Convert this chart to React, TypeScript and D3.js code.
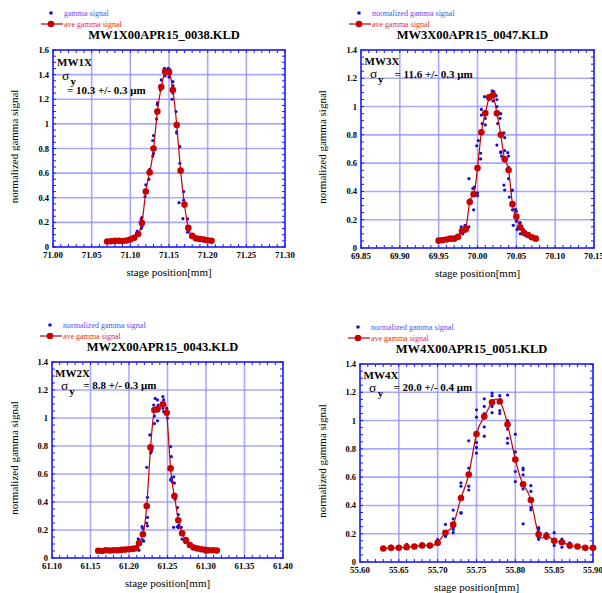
import React from 'react';
import * as d3 from 'd3';

// ---- MW1X ----
const p1Pos = [71.070, 71.075, 71.080, 71.085, 71.090, 71.095, 71.100, 71.105, 71.110, 71.115, 71.120, 71.125, 71.130, 71.135, 71.140, 71.145, 71.150, 71.155, 71.160, 71.165, 71.170, 71.175, 71.180, 71.185, 71.190, 71.195, 71.200, 71.205];
const p1Ave = [0.045, 0.047, 0.050, 0.050, 0.048, 0.053, 0.060, 0.075, 0.105, 0.195, 0.450, 0.605, 0.800, 1.100, 1.300, 1.425, 1.420, 1.275, 0.990, 0.620, 0.345, 0.155, 0.090, 0.070, 0.065, 0.060, 0.055, 0.050];
const p1Raw: [number, number][] = [
  [71.070, 0.040], [71.071, 0.050], [71.075, 0.043], [71.076, 0.052], [71.080, 0.048], [71.081, 0.055], [71.085, 0.045], [71.086, 0.055],
  [71.090, 0.044], [71.091, 0.052], [71.095, 0.048], [71.096, 0.058], [71.100, 0.055], [71.101, 0.066], [71.105, 0.068], [71.106, 0.085],
  [71.109, 0.130], [71.110, 0.092], [71.111, 0.112],
  [71.114, 0.150], [71.114, 0.227], [71.115, 0.240], [71.115, 0.165],
  [71.119, 0.410], [71.120, 0.465], [71.120, 0.505],
  [71.124, 0.550], [71.124, 0.620], [71.125, 0.630],
  [71.129, 0.740], [71.130, 0.760], [71.129, 0.865], [71.130, 0.905],
  [71.134, 1.040], [71.134, 1.085], [71.135, 1.155], [71.135, 1.170],
  [71.139, 1.275], [71.140, 1.357], [71.139, 1.280],
  [71.144, 1.450], [71.145, 1.390], [71.145, 1.440],
  [71.149, 1.450], [71.150, 1.380], [71.151, 1.440],
  [71.154, 1.200], [71.155, 1.343], [71.155, 1.250], [71.155, 1.310],
  [71.159, 1.100], [71.160, 0.925], [71.160, 0.935], [71.159, 1.000],
  [71.164, 0.815], [71.164, 0.680], [71.163, 0.360],
  [71.169, 0.450], [71.169, 0.380], [71.168, 0.230], [71.170, 0.330],
  [71.174, 0.228], [71.174, 0.120], [71.175, 0.140],
  [71.179, 0.100], [71.180, 0.090], [71.180, 0.078],
  [71.185, 0.075], [71.186, 0.065], [71.190, 0.068], [71.191, 0.060], [71.195, 0.058], [71.196, 0.062],
  [71.200, 0.052], [71.201, 0.058], [71.205, 0.048], [71.205, 0.055],
];
const p1XTicks = [71.0, 71.05, 71.1, 71.15, 71.2, 71.25, 71.3];
const p1YTicks = [0, 0.2, 0.4, 0.6, 0.8, 1, 1.2, 1.4, 1.6];

// ---- MW3X ----
const p2Pos = [69.950, 69.955, 69.960, 69.965, 69.970, 69.975, 69.980, 69.985, 69.990, 69.995, 70.000, 70.005, 70.010, 70.015, 70.020, 70.025, 70.030, 70.035, 70.040, 70.045, 70.050, 70.055, 70.060, 70.065, 70.070, 70.075];
const p2Ave = [0.052, 0.056, 0.060, 0.066, 0.066, 0.080, 0.120, 0.135, 0.325, 0.380, 0.565, 0.818, 0.952, 1.065, 1.082, 0.952, 0.800, 0.627, 0.552, 0.310, 0.222, 0.146, 0.108, 0.092, 0.076, 0.066];
const p2Raw: [number, number][] = [
  [69.950, 0.048], [69.951, 0.056], [69.955, 0.050], [69.956, 0.060], [69.960, 0.055], [69.961, 0.066],
  [69.965, 0.060], [69.966, 0.072], [69.970, 0.062], [69.971, 0.070], [69.975, 0.072], [69.976, 0.090],
  [69.979, 0.150], [69.980, 0.115], [69.981, 0.100],
  [69.984, 0.160], [69.985, 0.120], [69.986, 0.140],
  [69.989, 0.150], [69.989, 0.490], [69.990, 0.340],
  [69.994, 0.420], [69.995, 0.380], [69.995, 0.270], [69.996, 0.430],
  [69.999, 0.723], [70.000, 0.390], [70.000, 0.370], [70.001, 0.760],
  [70.004, 0.670], [70.004, 0.630], [70.005, 0.980], [70.005, 0.940], [70.006, 0.880],
  [70.009, 1.070], [70.010, 0.917], [70.010, 0.870],
  [70.014, 1.070], [70.015, 1.075], [70.015, 1.050],
  [70.019, 1.112], [70.020, 1.070], [70.020, 1.040], [70.021, 1.105],
  [70.024, 1.077], [70.025, 1.050], [70.025, 1.000], [70.025, 0.728], [70.026, 0.880],
  [70.029, 0.917], [70.030, 0.680], [70.030, 0.674], [70.031, 0.650], [70.030, 0.950],
  [70.034, 0.815], [70.035, 0.780], [70.035, 0.688], [70.034, 0.445], [70.035, 0.410],
  [70.039, 0.674], [70.040, 0.650], [70.040, 0.570], [70.040, 0.490], [70.041, 0.360],
  [70.044, 0.405], [70.045, 0.410], [70.045, 0.270], [70.046, 0.160],
  [70.049, 0.273], [70.050, 0.260], [70.050, 0.190], [70.051, 0.130],
  [70.054, 0.175], [70.055, 0.100], [70.055, 0.180], [70.056, 0.136],
  [70.059, 0.132], [70.060, 0.100], [70.061, 0.090],
  [70.064, 0.100], [70.065, 0.085], [70.066, 0.090],
  [70.069, 0.080], [70.070, 0.070], [70.074, 0.070], [70.075, 0.062],
];
const p2XTicks = [69.85, 69.9, 69.95, 70.0, 70.05, 70.1, 70.15];
const p2YTicks = [0, 0.2, 0.4, 0.6, 0.8, 1, 1.2, 1.4];

// ---- MW2X ----
const p3Pos = [61.160, 61.165, 61.170, 61.175, 61.180, 61.185, 61.190, 61.195, 61.200, 61.205, 61.209, 61.213, 61.218, 61.223, 61.228, 61.233, 61.237, 61.244, 61.249, 61.254, 61.259, 61.264, 61.269, 61.274, 61.279, 61.284, 61.289, 61.294, 61.299, 61.304, 61.309, 61.314];
const p3Ave = [0.052, 0.050, 0.055, 0.053, 0.055, 0.055, 0.058, 0.060, 0.062, 0.065, 0.070, 0.105, 0.170, 0.371, 0.790, 1.057, 1.064, 1.098, 1.038, 0.640, 0.443, 0.270, 0.176, 0.126, 0.093, 0.075, 0.068, 0.062, 0.058, 0.055, 0.055, 0.053];
const p3Raw: [number, number][] = [
  [61.160, 0.048], [61.161, 0.056], [61.165, 0.046], [61.166, 0.055], [61.170, 0.052], [61.171, 0.060], [61.175, 0.050], [61.176, 0.057],
  [61.180, 0.052], [61.181, 0.060], [61.185, 0.050], [61.186, 0.060], [61.190, 0.055], [61.191, 0.062], [61.195, 0.056], [61.196, 0.065],
  [61.200, 0.058], [61.201, 0.068], [61.205, 0.060], [61.206, 0.072],
  [61.209, 0.065], [61.210, 0.078],
  [61.212, 0.136], [61.213, 0.125], [61.213, 0.055],
  [61.217, 0.224], [61.218, 0.210], [61.218, 0.130], [61.219, 0.120],
  [61.223, 0.648], [61.224, 0.434], [61.224, 0.290], [61.223, 0.250], [61.224, 0.230],
  [61.227, 0.879], [61.228, 0.795], [61.229, 0.760], [61.228, 0.750], [61.229, 0.771],
  [61.232, 1.093], [61.233, 1.014], [61.234, 1.140], [61.233, 0.960],
  [61.237, 1.129], [61.238, 1.093], [61.238, 1.050], [61.237, 0.980],
  [61.244, 1.152], [61.245, 1.129], [61.245, 1.045], [61.244, 1.069],
  [61.249, 1.069], [61.250, 1.038], [61.250, 1.000], [61.249, 1.045],
  [61.254, 0.795], [61.255, 0.724], [61.255, 0.564], [61.256, 0.545], [61.255, 0.569], [61.254, 0.557],
  [61.258, 0.580], [61.259, 0.535], [61.259, 0.457], [61.260, 0.420], [61.258, 0.219],
  [61.263, 0.360], [61.264, 0.310], [61.263, 0.224], [61.264, 0.217], [61.265, 0.235],
  [61.268, 0.219], [61.269, 0.180], [61.269, 0.135], [61.270, 0.170],
  [61.273, 0.110], [61.274, 0.140], [61.275, 0.130],
  [61.279, 0.090], [61.279, 0.100], [61.280, 0.085],
  [61.284, 0.070], [61.285, 0.080], [61.289, 0.065], [61.290, 0.072], [61.294, 0.060], [61.295, 0.066],
  [61.299, 0.058], [61.300, 0.040], [61.304, 0.052], [61.305, 0.058], [61.309, 0.050], [61.310, 0.060], [61.314, 0.050], [61.315, 0.056],
];
const p3XTicks = [61.1, 61.15, 61.2, 61.25, 61.3, 61.35, 61.4];
const p3YTicks = [0, 0.2, 0.4, 0.6, 0.8, 1, 1.2, 1.4];

// ---- MW4X ----
const p4Pos = [55.63, 55.64, 55.65, 55.66, 55.67, 55.68, 55.69, 55.70, 55.71, 55.72, 55.73, 55.74, 55.75, 55.76, 55.77, 55.78, 55.79, 55.80, 55.81, 55.82, 55.83, 55.84, 55.85, 55.86, 55.87, 55.88, 55.89, 55.90];
const p4Ave = [0.095, 0.100, 0.100, 0.105, 0.110, 0.117, 0.117, 0.136, 0.207, 0.264, 0.452, 0.619, 0.905, 1.028, 1.130, 1.135, 0.973, 0.725, 0.550, 0.438, 0.195, 0.183, 0.150, 0.140, 0.117, 0.110, 0.100, 0.100];
const p4Raw: [number, number][] = [
  [55.63, 0.090], [55.63, 0.100], [55.64, 0.095], [55.64, 0.112], [55.65, 0.095], [55.65, 0.107], [55.66, 0.124], [55.66, 0.107],
  [55.67, 0.117], [55.67, 0.107], [55.68, 0.128], [55.68, 0.110], [55.69, 0.117], [55.69, 0.107],
  [55.70, 0.159], [55.70, 0.136], [55.70, 0.124],
  [55.71, 0.266], [55.71, 0.188], [55.71, 0.180],
  [55.72, 0.367], [55.72, 0.305], [55.72, 0.245], [55.72, 0.230], [55.72, 0.207],
  [55.73, 0.560], [55.73, 0.536], [55.73, 0.350], [55.73, 0.345],
  [55.74, 0.857], [55.74, 0.664], [55.74, 0.536], [55.74, 0.509],
  [55.75, 1.076], [55.75, 1.024], [55.75, 0.845], [55.75, 0.810], [55.75, 0.770],
  [55.76, 1.154], [55.76, 1.100], [55.76, 1.050], [55.76, 0.955], [55.76, 0.890],
  [55.77, 1.195], [55.77, 1.176], [55.77, 1.140], [55.77, 1.100], [55.77, 1.056],
  [55.78, 1.176], [55.78, 1.150], [55.78, 1.070], [55.78, 1.050],
  [55.79, 1.180], [55.79, 1.000], [55.79, 0.940], [55.79, 0.875], [55.79, 0.840],
  [55.80, 0.904], [55.80, 0.778], [55.80, 0.640], [55.80, 0.569],
  [55.81, 0.664], [55.81, 0.652], [55.81, 0.617], [55.81, 0.517], [55.81, 0.270],
  [55.82, 0.540], [55.82, 0.500], [55.82, 0.430], [55.82, 0.385], [55.82, 0.369],
  [55.83, 0.243], [55.83, 0.231], [55.83, 0.170], [55.83, 0.160],
  [55.84, 0.202], [55.84, 0.183], [55.84, 0.167],
  [55.85, 0.207], [55.85, 0.140], [55.85, 0.117],
  [55.86, 0.162], [55.86, 0.145], [55.86, 0.105],
  [55.87, 0.136], [55.87, 0.120], [55.87, 0.105],
  [55.88, 0.115], [55.88, 0.105], [55.89, 0.105], [55.89, 0.096], [55.90, 0.105], [55.90, 0.096],
];
const p4XTicks = [55.6, 55.65, 55.7, 55.75, 55.8, 55.85, 55.9];
const p4YTicks = [0, 0.2, 0.4, 0.6, 0.8, 1, 1.2, 1.4];

const serif = '"Liberation Serif", "Times New Roman", Times, serif';
const frameBlue = '#1a1aff';
const gridBlue = '#8c8cff';
const dotBlue = '#1010d8';
const aveRed = '#c80000';

const panels = [
  {
    title: 'MW1X00APR15_0038.KLD', rawLabel: 'gamma signal', name: 'MW1X', value: '= 10.3 +/- 0.3 μm',
    pos: p1Pos, ave: p1Ave, raw: p1Raw, xTicks: p1XTicks, yTicks: p1YTicks,
    box: { l: 53, t: 50, r: 285, b: 247 }, yLabelX: 17.5,
    ann: { name: [4, 15.5], sigma: [9, 30], sub: [17.5, 35], value: [14, 44] },
  },
  {
    title: 'MW3X00APR15_0047.KLD', rawLabel: 'normalized gamma signal', name: 'MW3X', value: '= 11.6 +/- 0.3 μm',
    pos: p2Pos, ave: p2Ave, raw: p2Raw, xTicks: p2XTicks, yTicks: p2YTicks,
    box: { l: 361, t: 50, r: 594, b: 248 }, yLabelX: 325.5,
    ann: { name: [3.5, 15], sigma: [9, 28], sub: [17, 33], value: [33.5, 27.5] },
  },
  {
    title: 'MW2X00APR15_0043.KLD', rawLabel: 'normalized gamma signal', name: 'MW2X', value: '= 8.8 +/- 0.3 μm',
    pos: p3Pos, ave: p3Ave, raw: p3Raw, xTicks: p3XTicks, yTicks: p3YTicks,
    box: { l: 52, t: 362, r: 283, b: 558 }, yLabelX: 17.5,
    ann: { name: [3, 15.3], sigma: [9, 28], sub: [17.3, 33], value: [31.3, 27] },
  },
  {
    title: 'MW4X00APR15_0051.KLD', rawLabel: 'normalized gamma signal', name: 'MW4X', value: '= 20.0 +/- 0.4 μm',
    pos: p4Pos, ave: p4Ave, raw: p4Raw, xTicks: p4XTicks, yTicks: p4YTicks,
    box: { l: 360, t: 364, r: 593, b: 562 }, yLabelX: 325.5,
    ann: { name: [3.5, 15], sigma: [9, 28.3], sub: [17.7, 33.3], value: [33.5, 27] },
  },
];

const fmtY = (d: number) => (d === 0 ? '0' : d === 1 ? '1' : d.toFixed(1));

function Panel({ p }: { p: (typeof panels)[number] }) {
  const { l, t, r, b } = p.box;
  const xd = [p.xTicks[0], p.xTicks[p.xTicks.length - 1]];
  const yMax = p.yTicks[p.yTicks.length - 1];
  const x = d3.scaleLinear().domain(xd).range([l, r]);
  const y = d3.scaleLinear().domain([0, yMax]).range([b, t]);
  const xMinor = x.ticks(30);
  const yMinor = y.ticks(yMax / 0.05);
  const avePts = p.pos.map((v, i) => [v, p.ave[i]] as [number, number]);
  const line = d3.line<[number, number]>().x(d => x(d[0])).y(d => y(d[1])).curve(d3.curveNatural);
  const cx = (l + r) / 2;
  const lx = l - 2;
  const a = p.ann;
  return (
    <g>
      {/* legend */}
      <circle cx={lx} cy={t - 37} r={1.8} fill={dotBlue} />
      <text x={lx + 13} y={t - 34.5} fontSize={8} fontFamily={serif} fill="#5050f0">{p.rawLabel}</text>
      <line x1={lx - 10} x2={lx + 12} y1={t - 26} y2={t - 26} stroke={aveRed} strokeWidth={1.2} />
      <circle cx={lx} cy={t - 26} r={3.3} fill={aveRed} />
      <text x={lx + 13} y={t - 23.5} fontSize={8} fontFamily={serif} fill="#e03030">ave gamma signal</text>
      {/* title */}
      <text x={cx - 5} y={t - 11.5} textAnchor="middle" fontSize={12.5} fontWeight="bold" fontFamily={serif}>{p.title}</text>
      {/* grid */}
      {p.xTicks.slice(1, -1).map(d => (
        <line key={'gx' + d} x1={x(d)} x2={x(d)} y1={t} y2={b} stroke={gridBlue} strokeWidth={1.6} opacity={0.75} />
      ))}
      {p.yTicks.slice(1, -1).map(d => (
        <line key={'gy' + d} x1={l} x2={r} y1={y(d)} y2={y(d)} stroke={gridBlue} strokeWidth={1.6} opacity={0.75} />
      ))}
      {/* minor ticks */}
      {xMinor.map(d => (
        <g key={'mx' + d}>
          <line x1={x(d)} x2={x(d)} y1={b} y2={b - 3} stroke={frameBlue} strokeWidth={1} />
          <line x1={x(d)} x2={x(d)} y1={t} y2={t + 3} stroke={frameBlue} strokeWidth={1} />
        </g>
      ))}
      {yMinor.map(d => (
        <g key={'my' + d}>
          <line x1={l} x2={l + 3} y1={y(d)} y2={y(d)} stroke={frameBlue} strokeWidth={1} />
          <line x1={r} x2={r - 3} y1={y(d)} y2={y(d)} stroke={frameBlue} strokeWidth={1} />
        </g>
      ))}
      <rect x={l} y={t} width={r - l} height={b - t} fill="none" stroke={frameBlue} strokeWidth={1.6} />
      {/* tick labels */}
      {p.xTicks.map(d => (
        <text key={'tx' + d} x={x(d)} y={b + 10.5} textAnchor="middle" fontSize={8.8} fontWeight="bold" fontFamily={serif}>{d.toFixed(2)}</text>
      ))}
      {p.yTicks.map(d => (
        <text key={'ty' + d} x={l - 4} y={y(d) + 3} textAnchor="end" fontSize={8.5} fontWeight="bold" fontFamily={serif}>{fmtY(d)}</text>
      ))}
      {/* axis titles */}
      <text x={cx} y={b + 29} textAnchor="middle" fontSize={11} fontFamily={serif}>stage position[mm]</text>
      <text transform={`translate(${p.yLabelX},${(t + b) / 2 - 2}) rotate(-90)`} textAnchor="middle" fontSize={11} fontFamily={serif}>normalized gamma signal</text>
      {/* annotation */}
      <text x={l + a.name[0]} y={t + a.name[1]} fontSize={11} fontWeight="bold" fontFamily={serif}>{p.name}</text>
      <text x={l + a.sigma[0]} y={t + a.sigma[1]} fontSize={13.5} fontFamily={serif}>σ</text>
      <text x={l + a.sub[0]} y={t + a.sub[1]} fontSize={11} fontWeight="bold" fontFamily={serif}>y</text>
      <text x={l + a.value[0]} y={t + a.value[1]} fontSize={11} fontWeight="bold" fontFamily={serif}>{p.value}</text>
      {/* data */}
      {p.raw.map((d, i) => (
        <circle key={'r' + i} cx={x(d[0])} cy={y(d[1])} r={1.6} fill={dotBlue} />
      ))}
      <path d={line(avePts) || ''} fill="none" stroke={aveRed} strokeWidth={1.2} />
      {avePts.map((d, i) => (
        <circle key={'a' + i} cx={x(d[0])} cy={y(d[1])} r={3.3} fill={aveRed} />
      ))}
    </g>
  );
}

export default function App() {
  return (
    <svg width={602} height={593} style={{ position: 'absolute', left: 0, top: 0, background: '#fff' }}>
      {panels.map(p => (
        <Panel key={p.title} p={p} />
      ))}
    </svg>
  );
}
